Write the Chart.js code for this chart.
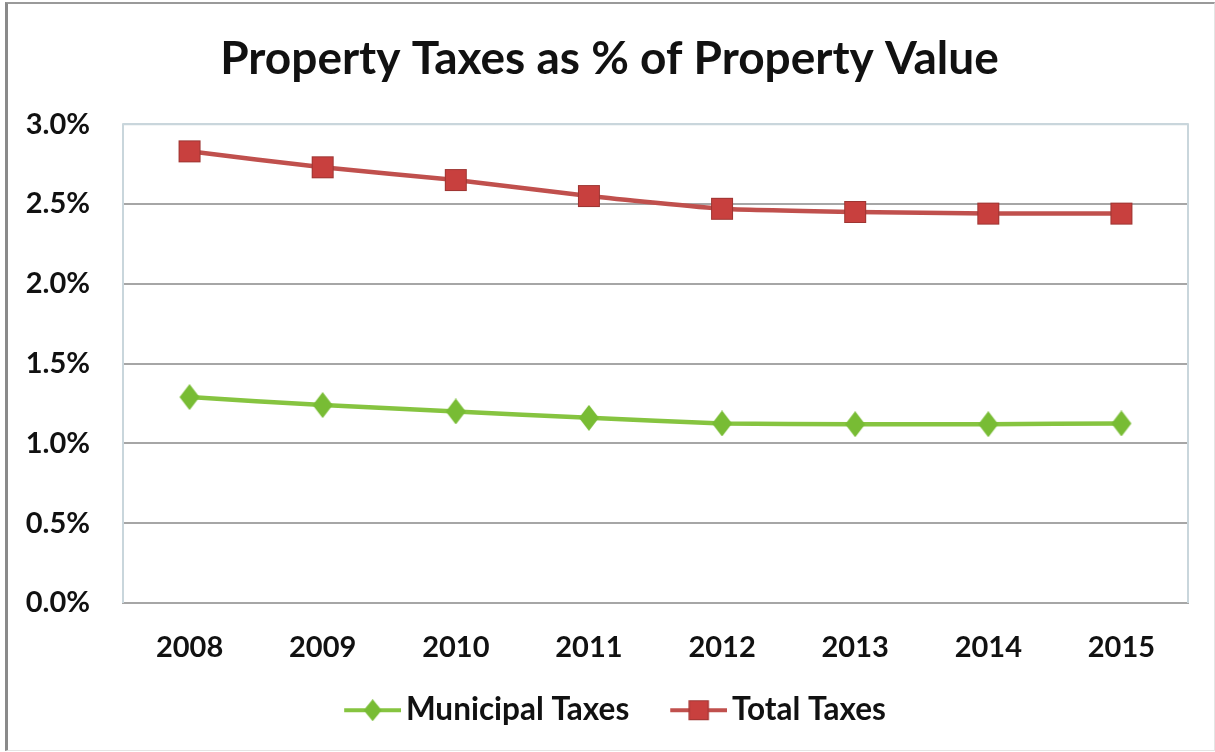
<!DOCTYPE html>
<html>
<head>
<meta charset="utf-8">
<script src="https://cdn.jsdelivr.net/npm/chart.js@4"></script>
<style>
  html, body { margin: 0; padding: 0; background: #fff; }
  #wrap { position: relative; width: 1215px; height: 752px; background: #fff; overflow: hidden; }
  #frame { position: absolute; left: 5px; top: 2px; width: 1206px; height: 746px;
    border-left: 3px solid #8a8a8a; border-top: 2px solid #9a9a9a;
    border-right: 1px solid #e4e4e4; border-bottom: 1px solid #e4e4e4; pointer-events: none; }
  canvas { position: absolute; left: 0; top: 0; }
</style>
</head>
<body>
<div id="wrap">
  <canvas id="c" width="1215" height="752"></canvas>
  <div id="frame"></div>
</div>
<script>
const titleText = 'Property Taxes as % of Property Value';
const years = ['2008', '2009', '2010', '2011', '2012', '2013', '2014', '2015'];
const municipalTaxes = [1.29, 1.24, 1.20, 1.16, 1.125, 1.12, 1.12, 1.125];
const totalTaxes = [2.83, 2.73, 2.65, 2.55, 2.47, 2.45, 2.44, 2.44];
const seriesNames = ['Municipal Taxes', 'Total Taxes'];
const yMin = 0, yMax = 3.0, yStep = 0.5;

const GREEN = '#86c440', GREEN_M = '#78bc34';
const RED = '#c0504d', RED_M = '#c8403e', RED_EDGE = '#9e3532';
const FONT = 'Lato, "Open Sans", "Liberation Sans", sans-serif';

// legend icon geometry
const LEG_BOX = 57, LEG_MARGIN = 22, LEG_LINE = 57;

function squareImg(withLine) {
  const w = withLine ? LEG_MARGIN + LEG_LINE : 24, h = 24;
  const x0 = withLine ? LEG_MARGIN : 0, lw = withLine ? LEG_LINE : w;
  const c = document.createElement('canvas'); c.width = w; c.height = h;
  const g = c.getContext('2d');
  if (withLine) { g.strokeStyle = RED; g.lineWidth = 4; g.beginPath(); g.moveTo(x0, h/2); g.lineTo(x0 + lw, h/2); g.stroke(); }
  const s = withLine ? 20 : 22, cx = x0 + lw/2;
  g.fillStyle = RED_M; g.fillRect(cx - s/2, h/2 - s/2, s, s);
  g.strokeStyle = RED_EDGE; g.lineWidth = 1; g.strokeRect(cx - s/2 + 0.5, h/2 - s/2 + 0.5, s - 1, s - 1);
  return c;
}
function diamondImg(withLine) {
  const w = withLine ? LEG_MARGIN + LEG_LINE : 22, h = withLine ? 22 : 26;
  const x0 = withLine ? LEG_MARGIN : 0, lw = withLine ? LEG_LINE : w;
  const c = document.createElement('canvas'); c.width = w; c.height = h;
  const g = c.getContext('2d');
  if (withLine) { g.strokeStyle = GREEN; g.lineWidth = 4; g.beginPath(); g.moveTo(x0, h/2); g.lineTo(x0 + lw, h/2); g.stroke(); }
  const dw = withLine ? 9 : 10, dh = withLine ? 11 : 13, cx = x0 + lw/2;
  g.fillStyle = GREEN_M; g.beginPath();
  g.moveTo(cx, h/2 - dh); g.lineTo(cx + dw, h/2); g.lineTo(cx, h/2 + dh); g.lineTo(cx - dw, h/2); g.closePath(); g.fill();
  return c;
}
const sqPoint = squareImg(false), sqLegend = squareImg(true);
const diPoint = diamondImg(false), diLegend = diamondImg(true);

const plotFrame = {
  id: 'plotFrame',
  beforeDatasetsDraw(chart) {
    const a = chart.chartArea, g = chart.ctx;
    g.save();
    g.strokeStyle = '#c9d6dc'; g.lineWidth = 2;
    g.beginPath();
    g.moveTo(a.left, a.bottom); g.lineTo(a.left, a.top); g.lineTo(a.right, a.top); g.lineTo(a.right, a.bottom);
    g.stroke();
    g.restore();
  }
};

const PAD_L = 9, PAD_R = 5, PAD_B = 16;

new Chart(document.getElementById('c'), {
  type: 'line',
  data: {
    labels: years,
    datasets: [
      { label: seriesNames[0], data: municipalTaxes, borderColor: GREEN, borderWidth: 4.5,
        pointStyle: diPoint, pointRadius: 12, pointHoverRadius: 12, tension: 0.15, legendImg: diLegend },
      { label: seriesNames[1], data: totalTaxes, borderColor: RED, borderWidth: 4.5,
        pointStyle: sqPoint, pointRadius: 12, pointHoverRadius: 12, tension: 0.15, legendImg: sqLegend }
    ]
  },
  options: {
    responsive: false,
    animation: false,
    devicePixelRatio: 1,
    layout: { padding: { left: PAD_L, right: PAD_R, top: 0, bottom: PAD_B } },
    plugins: {
      title: { display: true, text: titleText, color: '#111',
        font: { family: FONT, size: 46, weight: 'bold' }, padding: { top: 32, bottom: 37 } },
      legend: { position: 'bottom',
        labels: { color: '#111', font: { family: FONT, size: 31.5, weight: 'bold' },
          usePointStyle: true, pointStyleWidth: LEG_BOX, padding: 30,
          generateLabels(chart) {
            return chart.data.datasets.map((d, i) => ({
              text: d.label, pointStyle: d.legendImg, fillStyle: d.borderColor,
              strokeStyle: d.borderColor, lineWidth: 0, hidden: false, datasetIndex: i, fontColor: '#111'
            }));
          } } },
      tooltip: { enabled: false }
    },
    scales: {
      x: {
        offset: true,
        grid: { display: false },
        border: { display: true, color: '#a6a6a6', width: 2 },
        ticks: { color: '#111', font: { family: FONT, size: 29, weight: 'bold' }, padding: 19 },
        afterFit(scale) { const lh = scale.chart.legend ? scale.chart.legend.height : 0; scale.height = 752 - 603 - lh - PAD_B; }
      },
      y: {
        min: yMin, max: yMax,
        grid: { color: (ctx) => ctx.tick && ctx.tick.value === yMax ? '#c9d6dc' : '#a6a6a6', lineWidth: 2, drawTicks: false },
        border: { display: false },
        ticks: { stepSize: yStep, color: '#111', font: { family: FONT, size: 29, weight: 'bold' }, padding: 33,
          callback: (v) => v.toFixed(1) + '%' },
        afterFit(scale) { scale.width = 123 - PAD_L; }
      },
      yRight: {
        position: 'right', min: yMin, max: yMax,
        grid: { display: false }, border: { display: false },
        ticks: { display: false },
        afterFit(scale) { scale.width = 27 - PAD_R; }
      }
    }
  },
  plugins: [plotFrame]
});
</script>
</body>
</html>
